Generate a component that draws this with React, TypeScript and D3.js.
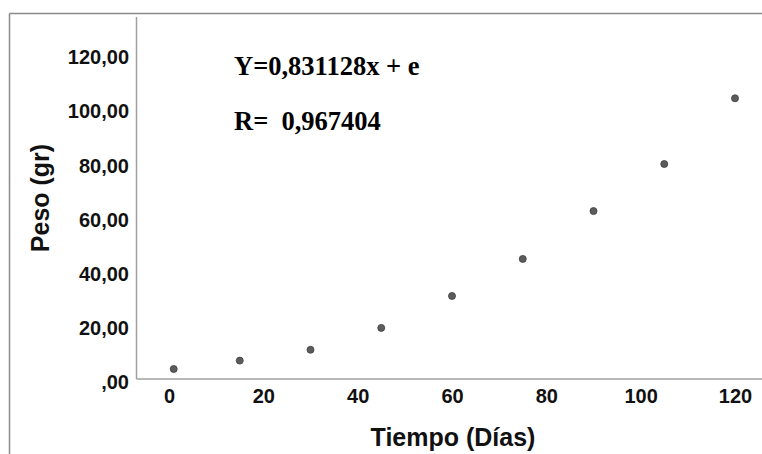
import React, { useRef, useEffect } from "react";
import { select, scaleLinear, axisLeft, axisBottom, format } from "d3";

// datos
const dias = [1, 15, 30, 45, 60, 75, 90, 105, 120];
const peso = [3.7, 6.8, 10.8, 18.9, 30.7, 44.4, 62.1, 79.5, 103.8];
const yTicks = [0, 20, 40, 60, 80, 100, 120];
const xTicks = [0, 20, 40, 60, 80, 100, 120];
const ecuacion = "Y=0,831128x + e";
const correlacion = "R=  0,967404";

const W = 762;
const H = 454;

const fmtY = (d: number) => (d === 0 ? ",00" : format(".2f")(d).replace(".", ","));

function App() {
  const svgRef = useRef<SVGSVGElement>(null);

  useEffect(() => {
    const svg = select(svgRef.current);
    svg.selectAll("*").remove();

    const xScale = scaleLinear().domain([0, 120]).range([169, 735]);
    const yScale = scaleLinear().domain([0, 120]).range([379, 54.5]);

    // marco exterior
    svg.append("line").attr("x1", 9.5).attr("x2", W).attr("y1", 13.5).attr("y2", 13.5)
      .attr("stroke", "#8a8a8a").attr("stroke-width", 1.5);
    svg.append("line").attr("x1", 9.5).attr("x2", 9.5).attr("y1", 13.5).attr("y2", H)
      .attr("stroke", "#8a8a8a").attr("stroke-width", 1.5);

    // ejes
    svg.append("line").attr("x1", 136.5).attr("x2", 136.5).attr("y1", 17).attr("y2", 379)
      .attr("stroke", "#a0a0a0").attr("stroke-width", 1.5);
    svg.append("line").attr("x1", 136.5).attr("x2", W).attr("y1", 379).attr("y2", 379)
      .attr("stroke", "#a0a0a0").attr("stroke-width", 1.5);

    const yAxis = axisLeft(yScale).tickValues(yTicks).tickFormat(fmtY as any).tickSize(0).tickPadding(7);
    const gy = svg.append("g").attr("transform", "translate(136,0)").call(yAxis);
    gy.select(".domain").remove();
    gy.selectAll("text")
      .attr("dy", "0.32em")
      .attr("y", 3)
      .style("font-family", "'Liberation Sans', Arial, sans-serif")
      .style("font-weight", "bold")
      .style("font-size", "20px")
      .attr("fill", "#111");

    const xAxis = axisBottom(xScale).tickValues(xTicks).tickFormat(format("d") as any).tickSize(0).tickPadding(10);
    const gx = svg.append("g").attr("transform", "translate(0,379)").call(xAxis);
    gx.select(".domain").remove();
    gx.selectAll("text")
      .style("font-family", "'Liberation Sans', Arial, sans-serif")
      .style("font-weight", "bold")
      .style("font-size", "20px")
      .attr("fill", "#111");

    // titulos de ejes
    svg.append("text")
      .attr("x", 453).attr("y", 446)
      .attr("text-anchor", "middle")
      .style("font-family", "'Liberation Sans', Arial, sans-serif")
      .style("font-weight", "bold")
      .style("font-size", "25px")
      .attr("fill", "#111")
      .text("Tiempo (Días)");

    svg.append("text")
      .attr("transform", "translate(49,198) rotate(-90)")
      .attr("text-anchor", "middle")
      .style("font-family", "'Liberation Sans', Arial, sans-serif")
      .style("font-weight", "bold")
      .style("font-size", "25px")
      .attr("fill", "#111")
      .text("Peso (gr)");

    // anotaciones
    svg.append("text")
      .attr("x", 234).attr("y", 75)
      .style("font-family", "'Liberation Serif', 'Times New Roman', serif")
      .style("font-weight", "bold")
      .style("font-size", "26.5px")
      .attr("fill", "#000")
      .text(ecuacion);
    svg.append("text")
      .attr("x", 234).attr("y", 130)
      .attr("xml:space", "preserve")
      .style("white-space", "pre")
      .style("font-family", "'Liberation Serif', 'Times New Roman', serif")
      .style("font-weight", "bold")
      .style("font-size", "26.5px")
      .attr("fill", "#000")
      .text(correlacion);

    // puntos
    svg.selectAll(".punto")
      .data(dias.map((d, i) => ({ d, p: peso[i] })))
      .join("circle")
      .attr("class", "punto")
      .attr("cx", (s) => xScale(s.d))
      .attr("cy", (s) => yScale(s.p))
      .attr("r", 3.5)
      .attr("fill", "#5c5c5c")
      .attr("stroke", "#3c3c3c")
      .attr("stroke-width", 0.8);
  }, []);

  return (
    <div style={{ position: "absolute", left: 0, top: 0 }}>
      <svg ref={svgRef} width={W} height={H} style={{ display: "block", background: "#fff" }} />
    </div>
  );
}

export default App;
